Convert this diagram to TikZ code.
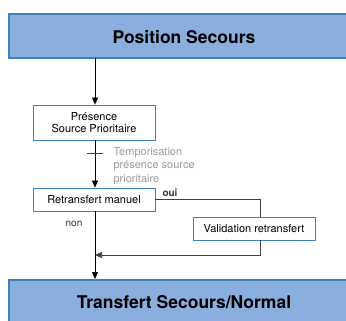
\documentclass[tikz,border=0pt]{standalone}
\usepackage{fontspec}
\setmainfont{TeX Gyre Heros}
\usetikzlibrary{arrows.meta}

\definecolor{bannerfill}{HTML}{8AAEDD}
\definecolor{bannerline}{HTML}{3B82C4}
\definecolor{boxline}{HTML}{3B82C4}
\definecolor{notegray}{HTML}{9A9A9A}

\begin{document}
\begin{tikzpicture}[
    x=1pt, y=-1pt,
    banner/.style={draw=bannerline, fill=bannerfill, line width=1.2pt},
    title/.style={font=\fontsize{17.5}{20}\selectfont\bfseries},
    stepbox/.style={draw=boxline, fill=white, line width=0.8pt, align=center, font=\fontsize{11}{12.5}\selectfont, inner sep=0pt},
    arrow/.style={-{Triangle[length=7pt,width=6pt]}, line width=0.7pt},
    link/.style={line width=0.7pt, draw=black!75}
]
    \useasboundingbox (0,0) rectangle (346,321);

    % Banners
    \draw[banner] (9,14) rectangle (350,58);
    \node[title] (top) at (184,37) {Position Secours};
    \draw[banner] (9,280) rectangle (350,325);
    \node[title] (bottom) at (184,302) {Transfert Secours/Normal};
    \coordinate (topout) at (95,58);
    \coordinate (bottomin) at (95,279);

    % Boxes
    \node[stepbox, minimum width=122pt, minimum height=35pt] (presence) at (94,122.5) {Présence\\Source Prioritaire};
    \node[stepbox, minimum width=122pt, minimum height=23pt] (manuel) at (94,199.5) {Retransfert manuel};
    \node[stepbox, minimum width=122pt, minimum height=23pt] (valid) at (254,228.5) {Validation retransfert};

    % Helper points
    \coordinate (corner) at (260,199.5);
    \coordinate (back) at (260,255);
    \coordinate (join) at (95,255);

    % Edges
    \draw[arrow] (topout) -- (presence.north -| topout);
    \draw[arrow] (presence.south -| topout) -- (manuel.north -| topout);
    \draw[link] (87,153) -- (103,153);
    \node[font=\fontsize{11}{13.8}\selectfont, text=notegray, align=left, anchor=north west] (tempo) at (110,143.5) {Temporisation\\présence source\\prioritaire};

    \draw[arrow] (manuel.south -| topout) -- (bottomin);
    \node[font=\fontsize{10}{12}\selectfont, text=black!80] (non) at (74,224) {non};

    \draw[link] (manuel.east) -- (corner) -- (valid.north -| corner);
    \node[font=\fontsize{10}{12}\selectfont\bfseries, text=black!80] (oui) at (170,193) {oui};
    \draw[link, -{Triangle[length=7pt,width=6pt]}] (valid.south -| corner) -- (back) -- (join);
\end{tikzpicture}
\end{document}
